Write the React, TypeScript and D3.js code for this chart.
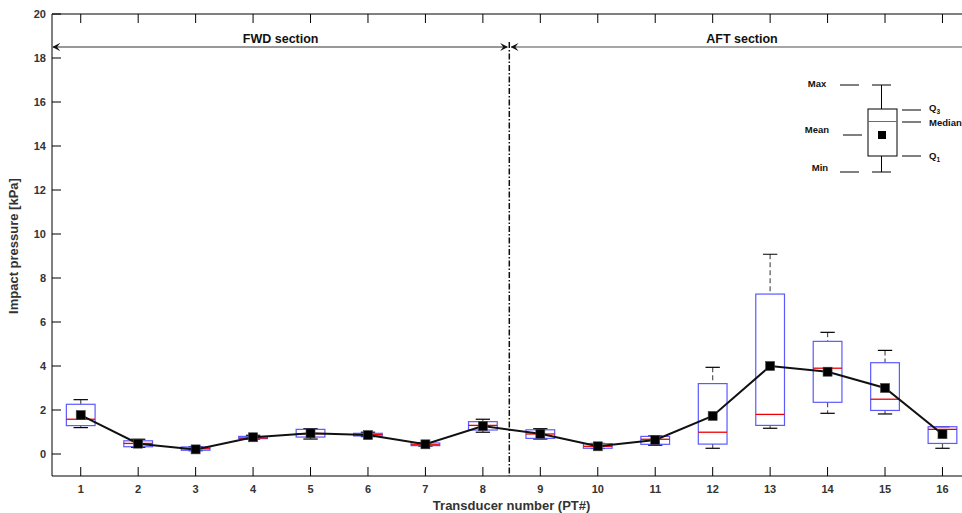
import React from "react";
import * as d3 from "d3";

const transducers = [1, 2, 3, 4, 5, 6, 7, 8, 9, 10, 11, 12, 13, 14, 15, 16];
const whiskerMax = [2.47, 0.67, 0.33, 0.85, 1.15, 0.99, 0.52, 1.58, 1.15, 0.48, 0.82, 3.94, 9.08, 5.53, 4.71, 1.24];
const q3 = [2.26, 0.6, 0.32, 0.8, 1.12, 0.94, 0.5, 1.47, 1.1, 0.47, 0.8, 3.2, 7.27, 5.12, 4.15, 1.24];
const median = [1.58, 0.48, 0.24, 0.73, 0.92, 0.88, 0.42, 1.3, 0.91, 0.35, 0.67, 0.99, 1.8, 3.9, 2.49, 1.12];
const q1 = [1.29, 0.33, 0.17, 0.7, 0.77, 0.82, 0.38, 1.09, 0.71, 0.26, 0.44, 0.45, 1.3, 2.35, 1.98, 0.48];
const whiskerMin = [1.2, 0.3, 0.15, 0.68, 0.68, 0.79, 0.36, 0.99, 0.68, 0.25, 0.4, 0.26, 1.17, 1.85, 1.82, 0.26];
const mean = [1.77, 0.47, 0.21, 0.76, 0.94, 0.86, 0.44, 1.27, 0.92, 0.35, 0.64, 1.73, 4.0, 3.74, 3.0, 0.9];
const yTicks = [0, 2, 4, 6, 8, 10, 12, 14, 16, 18, 20];
const sectionDivider = 8.46;
const arrowLevel = 18.5;

const W = 962;
const H = 513;
const left = 52;
const top = 14;
const bottom = 476;
const xScale = d3.scaleLinear().domain([0.5, 16.5]).range([left, left + 16 * 57.45]);
const yScale = d3.scaleLinear().domain([-1, 20]).range([bottom, top]);

const FONT = "'Liberation Sans', Arial, sans-serif";
const BLUE = "#5a5aff";
const boxHalf = 0.25;
const capHalf = 0.125;
const tickLen = 9;

export default function App() {
  const line = d3
    .line<number>()
    .x((_, i) => xScale(transducers[i]))
    .y((d) => yScale(d));
  const bw = xScale(1 + boxHalf) - xScale(1);
  const cw = xScale(1 + capHalf) - xScale(1);
  const yArrow = yScale(arrowLevel);
  const xDiv = xScale(sectionDivider);
  const rightEdge = xScale(16.5);

  return (
    <div style={{ position: "absolute", left: 0, top: 0 }}>
      <svg width={W} height={H} style={{ display: "block", background: "#fff" }} fontFamily={FONT}>
        <defs>
          <marker id="arrL" viewBox="0 0 10 10" refX="9" refY="5" markerWidth="8" markerHeight="8" orient="auto-start-reverse" markerUnits="userSpaceOnUse">
            <path d="M10,5 L0,0 L4,5 L0,10 Z" fill="#111" />
          </marker>
          <clipPath id="plotClip">
            <rect x={left} y={top} width={rightEdge - left} height={bottom - top} />
          </clipPath>
        </defs>

        {/* axes frame */}
        <line x1={left} x2={rightEdge} y1={top} y2={top} stroke="#000" strokeWidth={1} />
        <line x1={left} x2={rightEdge} y1={bottom} y2={bottom} stroke="#000" strokeWidth={1} />
        <line x1={left} x2={left} y1={top} y2={bottom} stroke="#000" strokeWidth={1} />

        {/* y ticks */}
        {yTicks.map((t) => (
          <g key={"y" + t}>
            <line x1={left} x2={left + tickLen} y1={yScale(t)} y2={yScale(t)} stroke="#000" />
            <text x={left - 6} y={yScale(t)} dy="0.35em" textAnchor="end" fontSize={11} fontWeight="bold" fill="#333">
              {t}
            </text>
          </g>
        ))}
        {/* x ticks */}
        {transducers.map((t) => (
          <g key={"x" + t}>
            <line x1={xScale(t)} x2={xScale(t)} y1={bottom} y2={bottom - tickLen} stroke="#000" />
            <line x1={xScale(t)} x2={xScale(t)} y1={top} y2={top + tickLen} stroke="#000" />
            <text x={xScale(t)} y={bottom + 17} textAnchor="middle" fontSize={11} fontWeight="bold" fill="#333">
              {t}
            </text>
          </g>
        ))}

        {/* axis titles */}
        <text x={xScale(8.5)} y={510} textAnchor="middle" fontSize={13} fontWeight="bold" fill="#333">
          Transducer number (PT#)
        </text>
        <text transform={`translate(18,246) rotate(-90)`} textAnchor="middle" fontSize={13} fontWeight="bold" fill="#333">
          Impact pressure [kPa]
        </text>

        {/* section arrows */}
        <line x1={left + 1} x2={xDiv - 2} y1={yArrow} y2={yArrow} stroke="#333" strokeWidth={1} markerStart="url(#arrL)" markerEnd="url(#arrL)" />
        <line x1={xDiv + 2} x2={rightEdge - 1} y1={yArrow} y2={yArrow} stroke="#888" strokeWidth={1.5} markerStart="url(#arrL)" markerEnd="url(#arrL)" />
        <text x={(left + xDiv) / 2} y={yArrow - 4} textAnchor="middle" fontSize={12.5} fontWeight="bold" fill="#111">
          FWD section
        </text>
        <text x={742} y={yArrow - 4} textAnchor="middle" fontSize={12.5} fontWeight="bold" fill="#111">
          AFT section
        </text>
        <line x1={xDiv} x2={xDiv} y1={yArrow - 5} y2={bottom} stroke="#111" strokeWidth={1.5} strokeDasharray="6,2,1.5,2" />

        {/* boxes */}
        <g clipPath="url(#plotClip)">
          {transducers.map((t, i) => {
            const cx = xScale(t);
            return (
              <g key={"b" + t}>
                <line x1={cx} x2={cx} y1={yScale(whiskerMax[i])} y2={yScale(q3[i])} stroke="#555" strokeWidth={1.2} strokeDasharray="5,3" />
                <line x1={cx} x2={cx} y1={yScale(q1[i])} y2={yScale(whiskerMin[i])} stroke="#555" strokeWidth={1.2} strokeDasharray="5,3" />
                <line x1={cx - cw} x2={cx + cw} y1={yScale(whiskerMax[i])} y2={yScale(whiskerMax[i])} stroke="#000" strokeWidth={1.2} />
                <line x1={cx - cw} x2={cx + cw} y1={yScale(whiskerMin[i])} y2={yScale(whiskerMin[i])} stroke="#000" strokeWidth={1.2} />
                <rect x={cx - bw} y={yScale(q3[i])} width={2 * bw} height={Math.max(1, yScale(q1[i]) - yScale(q3[i]))} fill="none" stroke={BLUE} strokeWidth={1.2} />
                <line x1={cx - bw} x2={cx + bw} y1={yScale(median[i])} y2={yScale(median[i])} stroke="#e00" strokeWidth={1.3} />
              </g>
            );
          })}
          <path d={line(mean) || ""} fill="none" stroke="#111" strokeWidth={2} />
          {transducers.map((t, i) => (
            <rect key={"m" + t} x={xScale(t) - 4.5} y={yScale(mean[i]) - 4.5} width={9} height={9} fill="#000" stroke="#444" strokeWidth={0.6} />
          ))}
        </g>

        {/* legend inset */}
        <g fontSize={9.5} fontWeight="bold" fill="#111">
          <line x1={840} x2={859} y1={85} y2={85} stroke="#000" />
          <line x1={843} x2={862} y1={135} y2={135} stroke="#000" />
          <line x1={840} x2={859} y1={172} y2={172} stroke="#000" />
          <line x1={902} x2={921} y1={110} y2={110} stroke="#000" />
          <line x1={902} x2={921} y1={122} y2={122} stroke="#000" />
          <line x1={902} x2={921} y1={156} y2={156} stroke="#000" />
          <line x1={881.5} x2={881.5} y1={85} y2={109} stroke="#000" />
          <line x1={881.5} x2={881.5} y1={156} y2={172} stroke="#000" />
          <line x1={872} x2={891} y1={85} y2={85} stroke="#000" />
          <line x1={872} x2={891} y1={172} y2={172} stroke="#000" />
          <rect x={868} y={109} width={29} height={47} fill="none" stroke="#000" />
          <line x1={868} x2={897} y1={121.5} y2={121.5} stroke="#e33" />
          <rect x={878} y={131} width={8} height={8} fill="#000" />
          <text x={817} y={87} textAnchor="middle">Max</text>
          <text x={817} y={133} textAnchor="middle">Mean</text>
          <text x={820} y={171} textAnchor="middle">Min</text>
          <text x={929} y={111}>
            Q<tspan fontSize={6.5} dy={3}>3</tspan>
          </text>
          <text x={929} y={126}>Median</text>
          <text x={929} y={159}>
            Q<tspan fontSize={6.5} dy={3}>1</tspan>
          </text>
        </g>
      </svg>
    </div>
  );
}
